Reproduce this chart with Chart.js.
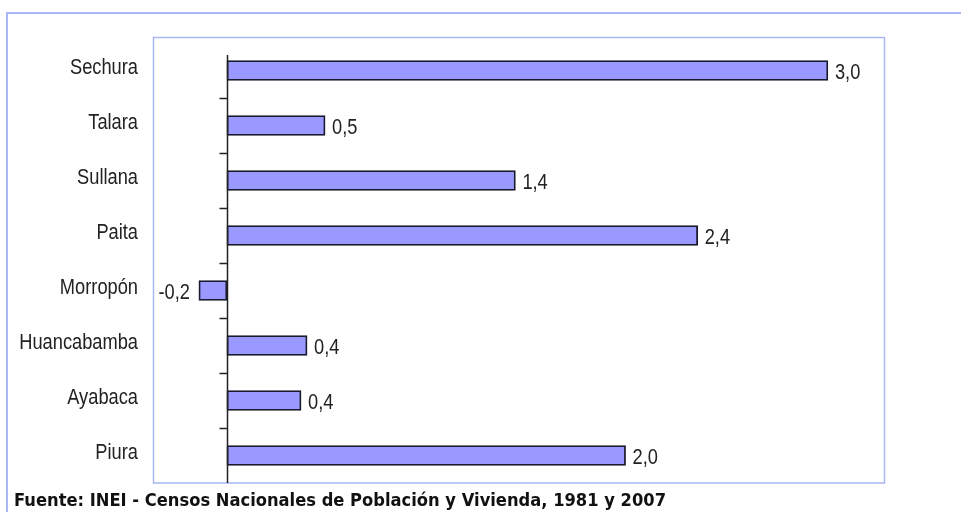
<!DOCTYPE html>
<html>
<head>
<meta charset="utf-8">
<script src="https://cdn.jsdelivr.net/npm/chart.js@4"></script>
<style>
  html, body { margin: 0; padding: 0; background: #fff; }
  #wrap { position: relative; width: 961px; height: 512px; }
</style>
</head>
<body>
<div id="wrap"><canvas id="grafico" width="961" height="512"></canvas></div>
<script>
var provincias = ["Sechura", "Talara", "Sullana", "Paita", "Morropón", "Huancabamba", "Ayabaca", "Piura"];
var tasas = [3.0, 0.49, 1.44, 2.35, -0.14, 0.40, 0.37, 1.99];
var etiquetas = ["3,0", "0,5", "1,4", "2,4", "-0,2", "0,4", "0,4", "2,0"];
var fuente = "Fuente: INEI - Censos Nacionales de Población y Vivienda, 1981 y 2007";

var fontTxt = "22px 'Liberation Sans', Arial, sans-serif";
var angosto = 0.83;   // la fuente original es estrecha
var borde = '#a9b7f5';

// texto estrechado horizontalmente
function textoEstrecho(ctx, txt, x, y, align) {
    ctx.save();
    ctx.translate(x, y);
    ctx.scale(angosto, 1);
    ctx.textAlign = align;
    ctx.fillText(txt, 0, 0);
    ctx.restore();
}

var decoracion = {
    id: 'decoracion',
    beforeDraw: function(chart) {
        var ctx = chart.ctx;
        ctx.save();
        ctx.strokeStyle = borde;
        ctx.lineWidth = 2;
        // marco exterior
        ctx.strokeRect(7, 13, 1100, 700);
        // marco del area de trazado
        ctx.lineWidth = 1.5;
        ctx.strokeRect(153.5, 37.5, 731, 445.5);
        ctx.restore();
    },
    afterDatasetsDraw: function(chart) {
        var ctx = chart.ctx;
        var x = chart.scales.x;
        var y = chart.scales.y;
        var x0 = Math.round(x.getPixelForValue(0)) + 0.5;
        ctx.save();
        ctx.strokeStyle = '#222';
        ctx.lineWidth = 1.5;
        ctx.beginPath();
        ctx.moveTo(x0, 55);
        ctx.lineTo(x0, chart.chartArea.bottom);
        for (var i = 0; i < provincias.length - 1; i++) {
            var yy = Math.round((y.getPixelForValue(i) + y.getPixelForValue(i + 1)) / 2) + 0.5;
            ctx.moveTo(x0 - 8, yy);
            ctx.lineTo(x0, yy);
        }
        ctx.stroke();

        ctx.fillStyle = '#222';
        ctx.font = fontTxt;
        ctx.textBaseline = 'alphabetic';

        // nombres de provincia
        provincias.forEach(function(p, i) {
            textoEstrecho(ctx, p, 138, y.getPixelForValue(i) + 3, 'right');
        });

        // etiquetas de valor
        chart.getDatasetMeta(0).data.forEach(function(bar, i) {
            if (tasas[i] < 0) {
                textoEstrecho(ctx, etiquetas[i], bar.x - 9, bar.y + 8, 'right');
            } else {
                textoEstrecho(ctx, etiquetas[i], bar.x + 7, bar.y + 8, 'left');
            }
        });

        // fuente
        ctx.font = "bold 17px 'DejaVu Sans', sans-serif";
        ctx.textAlign = 'left';
        var w = ctx.measureText(fuente).width;
        ctx.translate(14, 506);
        ctx.scale(652 / w, 1);
        ctx.fillStyle = '#111';
        ctx.fillText(fuente, 0, 0);
        ctx.restore();
    }
};

var ctx = document.getElementById("grafico").getContext('2d');
var chart = new Chart(ctx, {
    type: 'bar',
    data: {
        labels: provincias,
        datasets: [{
            data: tasas,
            backgroundColor: '#9999ff',
            borderColor: '#1a1a2e',
            borderWidth: 1.8,
            borderSkipped: false,
            barThickness: 20
        }]
    },
    options: {
        indexAxis: 'y',
        responsive: false,
        animation: false,
        layout: {
            padding: { left: 0, top: 43, right: 76, bottom: 29 }
        },
        plugins: {
            legend: { display: false },
            tooltip: { enabled: false }
        },
        scales: {
            x: {
                display: false,
                min: -0.369,
                max: 3.285
            },
            y: {
                afterFit: function(scale) { scale.width = 153; },
                grid: { display: false, drawTicks: false },
                border: { display: false },
                ticks: { display: false }
            }
        }
    },
    plugins: [decoracion]
});
</script>
</body>
</html>
